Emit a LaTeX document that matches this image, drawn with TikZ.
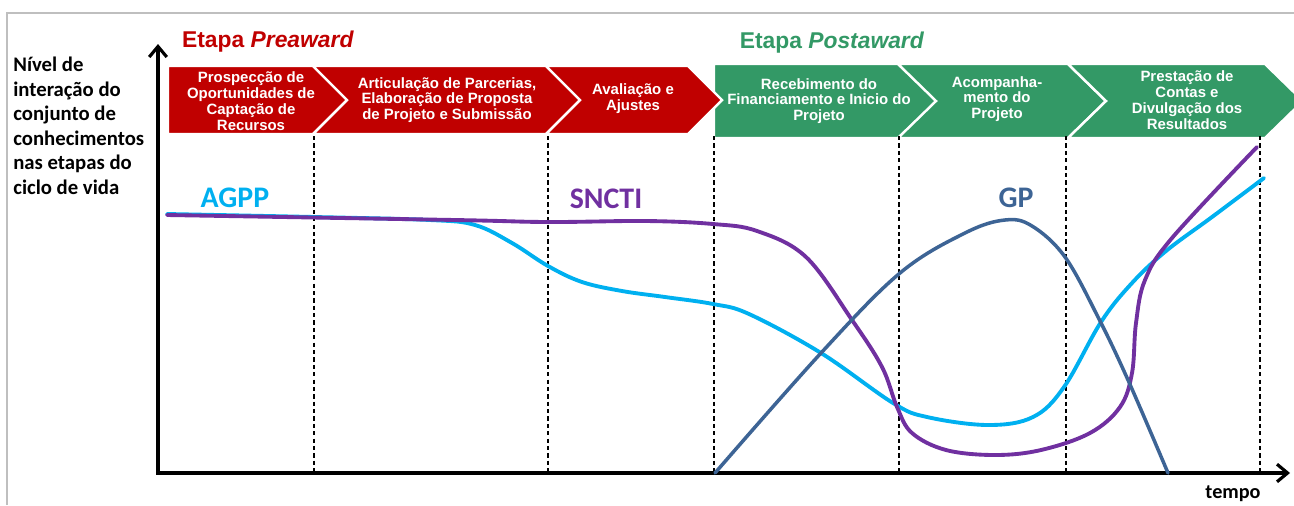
\documentclass[tikz,border=0pt]{standalone}
\usepackage{fontspec}
\setmainfont{Liberation Sans}
\newfontfamily\calib{Carlito}
\usetikzlibrary{arrows.meta}
\definecolor{redc}{HTML}{C00000}
\definecolor{greenc}{HTML}{339966}
\definecolor{agppc}{HTML}{00B0F0}
\definecolor{snctic}{HTML}{7030A0}
\definecolor{gpc}{HTML}{3D6495}

\begin{document}
\begin{tikzpicture}[x=0.02cm, y=-0.02cm,
  stage/.style={font=\bfseries\fontsize{8.5}{9}\selectfont, text=white, align=center, inner sep=0pt},
  chev/.style={draw=white, line width=1.4pt},
  sep/.style={dash pattern=on 2.4pt off 1.8pt, line width=0.6pt},
  curve/.style={line width=2.2pt, line cap=round, smooth, tension=0.6},
  lbl/.style={font=\calib\bfseries\fontsize{17}{17}\selectfont, anchor=base, inner sep=0pt}]
\useasboundingbox (0,0) rectangle (1294,505);
\draw[black!25, line width=0.9pt] (7,505) -- (7,13) -- (1294,13);

\node[font=\bfseries\fontsize{13}{14}\selectfont, text=redc, anchor=base, inner sep=0pt] (pre) at (268,47) {Etapa \textit{Preaward}};
\node[font=\bfseries\fontsize{13}{14}\selectfont, text=greenc, anchor=base, inner sep=0pt] (post) at (832,48) {Etapa \textit{Postaward}};

\filldraw[chev, fill=greenc] (714,64) -- (898,64) -- (938,101) -- (898,138) -- (714,138) -- cycle;
\filldraw[chev, fill=greenc] (898,64) -- (1068,64) -- (1106,101) -- (1068,138) -- (898,138) -- (936,101) -- cycle;
\filldraw[chev, fill=greenc] (1068,64) -- (1265,64) -- (1303,101) -- (1265,138) -- (1068,138) -- (1106,101) -- cycle;
\filldraw[chev, fill=redc] (168,66) -- (313,66) -- (347,100) -- (313,134) -- (168,134) -- cycle;
\filldraw[chev, fill=redc] (313,66) -- (546,66) -- (580,100) -- (546,134) -- (313,134) -- (347,100) -- cycle;
\filldraw[chev, fill=redc] (546,66) -- (688,66) -- (722,100) -- (688,134) -- (546,134) -- (580,100) -- cycle;

\node[stage] (s1) at (251,101) {Prospecção de\\Oportunidades de\\Captação de\\Recursos};
\node[stage] (s2) at (447,100) {Articulação de Parcerias,\\Elaboração de Proposta\\de Projeto e Submissão};
\node[stage] (s3) at (633,99) {Avaliação e\\Ajustes};
\node[stage] (s4) at (819,101) {Recebimento do\\Financiamento e Inicio do\\Projeto};
\node[stage] (s5) at (997,99) {Acompanha-\\mento do\\Projeto};
\node[stage] (s6) at (1187,100) {Prestação de\\Contas e\\Divulgação dos\\Resultados};

\foreach \x in {314,548,714,899,1066,1260}
  \draw[sep] (\x,136) -- (\x,473);

\node[anchor=north west, align=left, inner sep=0pt, font=\calib\bfseries\fontsize{11.8}{13.9}\selectfont] (nivel) at (13,57)
  {Nível de\\interação do\\conjunto de\\conhecimentos\\nas etapas do\\ciclo de vida};

\coordinate (o) at (158,473);
\coordinate (ytop) at (158,44);
\coordinate (xend) at (1290,473);
\draw[line width=1.8pt, {Straight Barb[length=6pt,width=10pt]}-{Straight Barb[length=6pt,width=10pt]}] (ytop) -- (o) -- (xend);
\node[font=\calib\bfseries\fontsize{11.5}{12}\selectfont, anchor=base, inner sep=0pt] (tempo) at (1233,498) {tempo};

\draw[curve, agppc] plot coordinates {(167,214) (314,217) (430,220) (475,225) (512,243) (548,266) (582,282) (622,291) (665,297) (713,304) (749,314) (821,353) (893,403) (927,417) (988,425) (1033,417) (1064,387) (1101,322) (1132,283) (1166,251) (1212,217) (1264,178)};
\draw[curve, snctic] plot coordinates {(167,215) (455,220) (548,222) (646,221) (713,224) (757,231) (806,257) (852,320) (882,367) (897,407) (912,433) (946,450) (995,455) (1041,450) (1090,433) (1120,407) (1132,373) (1136,323) (1145,280) (1172,238) (1257,147)};
\draw[curve, gpc, line width=2pt] plot coordinates {(715,473) (821,353) (900,273) (965,233) (1005,220) (1032,226) (1065,257) (1098,317) (1128,380) (1168,473)};

\node[lbl, text=agppc] (agpp) at (235,207) {AGPP};
\node[lbl, text=snctic] (sncti) at (606,208) {SNCTI};
\node[lbl, text=gpc] (gp) at (1016,207) {GP};
\end{tikzpicture}
\end{document}
